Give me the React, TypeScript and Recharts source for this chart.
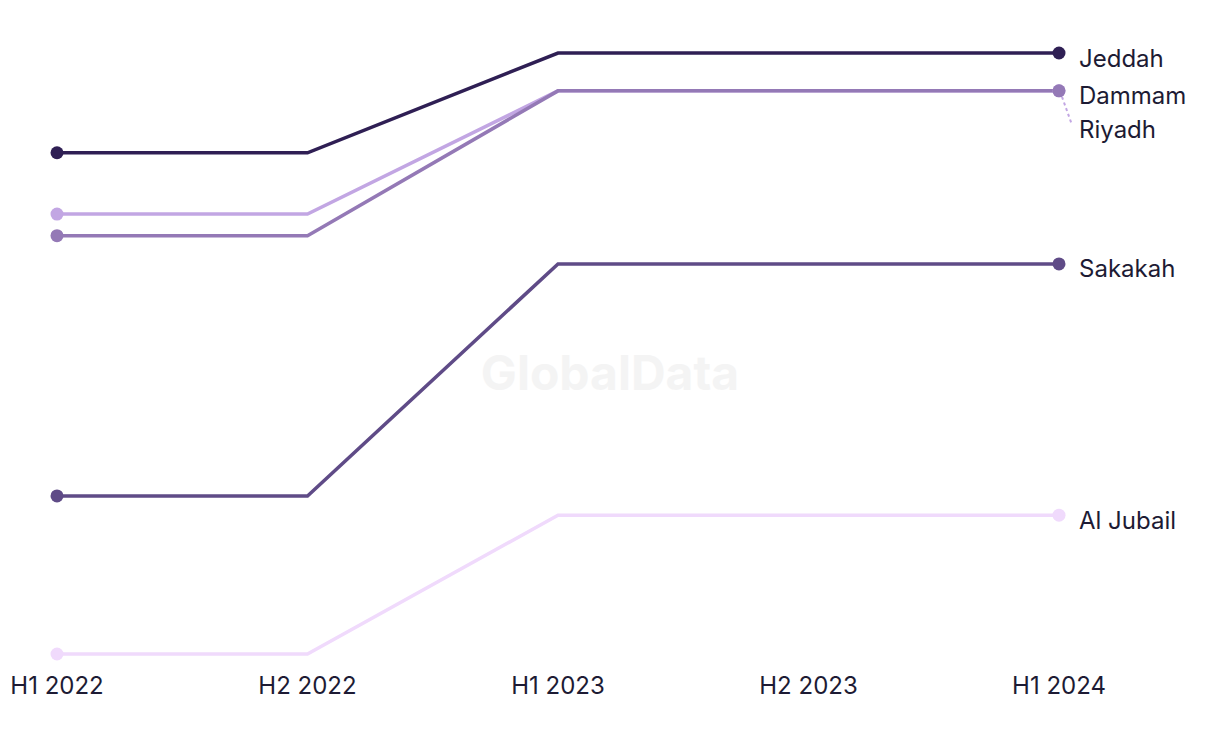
import { LineChart, Line, XAxis, YAxis, LabelList } from 'recharts';

const periods = ['H1 2022', 'H2 2022', 'H1 2023', 'H2 2023', 'H1 2024'];
const jeddah = [83.4, 83.4, 100, 100, 100];
const riyadh = [73.2, 73.2, 93.7, 93.7, 93.7];
const dammam = [69.6, 69.6, 93.7, 93.7, 93.7];
const sakakah = [26.3, 26.3, 64.9, 64.9, 64.9];
const alJubail = [0, 0, 23.1, 23.1, 23.1];

const data = periods.map((p, i) => ({
  period: p,
  jeddah: jeddah[i],
  riyadh: riyadh[i],
  dammam: dammam[i],
  sakakah: sakakah[i],
  alJubail: alJubail[i],
}));

const TEXT = '#1d1b34';
const FONT = 'Inter, "Noto Sans", sans-serif';

const series = [
  { key: 'alJubail', name: 'Al Jubail', color: '#f0dafc', shift: 0 },
  { key: 'sakakah', name: 'Sakakah', color: '#5f4b87', shift: 0 },
  { key: 'riyadh', name: 'Riyadh', color: '#c2a6e3', shift: 34 },
  { key: 'dammam', name: 'Dammam', color: '#9479b6', shift: 0 },
  { key: 'jeddah', name: 'Jeddah', color: '#2f1f54', shift: 0 },
];

const last = periods.length - 1;

function makeDot(color: string) {
  return (props: any) => {
    const { cx, cy, index } = props;
    if (index !== 0 && index !== last) return <g key={`d-${index}`} />;
    return <circle key={`d-${index}`} cx={cx} cy={cy} r={6.5} fill={color} />;
  };
}

function makeLabel(name: string, color: string, shift: number) {
  return (props: any) => {
    const { x, y, index } = props;
    if (index !== last) return null;
    return (
      <g>
        {shift > 0 && (
          <line
            x1={x + 3}
            y1={y + 6}
            x2={x + 13}
            y2={y + shift}
            stroke={color}
            strokeWidth={2}
            strokeDasharray="3 3"
          />
        )}
        <text
          x={x + 20}
          y={y + shift + 7}
          fill={TEXT}
          fontSize={24}
          fontFamily={FONT}
          dominantBaseline="middle"
        >
          {name}
        </text>
      </g>
    );
  };
}

export default function App() {
  return (
    <div style={{ position: 'absolute', left: 0, top: 0, width: 1220, height: 744, background: '#fff' }}>
      <div
        style={{
          position: 'absolute',
          left: 0,
          top: 343,
          width: 1220,
          textAlign: 'center',
          fontFamily: FONT,
          fontWeight: 700,
          fontSize: 48,
          color: '#f4f4f4',
          pointerEvents: 'none',
        }}
      >
        GlobalData
      </div>
      <LineChart
        width={1220}
        height={744}
        data={data}
        margin={{ top: 53, right: 161, left: 57, bottom: 0 }}
        style={{ position: 'absolute', left: 0, top: 0 }}
      >
        <XAxis
          dataKey="period"
          height={90}
          axisLine={false}
          tickLine={false}
          tickSize={0}
          tickMargin={23}
          interval={0}
          tick={{ fill: TEXT, fontSize: 24, fontFamily: FONT }}
        />
        <YAxis hide domain={[0, 100]} />
        {series.map((s) => (
          <Line
            key={s.key}
            dataKey={s.key}
            name={s.name}
            type="linear"
            stroke={s.color}
            strokeWidth={3.5}
            dot={makeDot(s.color)}
            activeDot={false}
            isAnimationActive={false}
          >
            <LabelList dataKey={s.key} content={makeLabel(s.name, s.color, s.shift)} />
          </Line>
        ))}
      </LineChart>
    </div>
  );
}
